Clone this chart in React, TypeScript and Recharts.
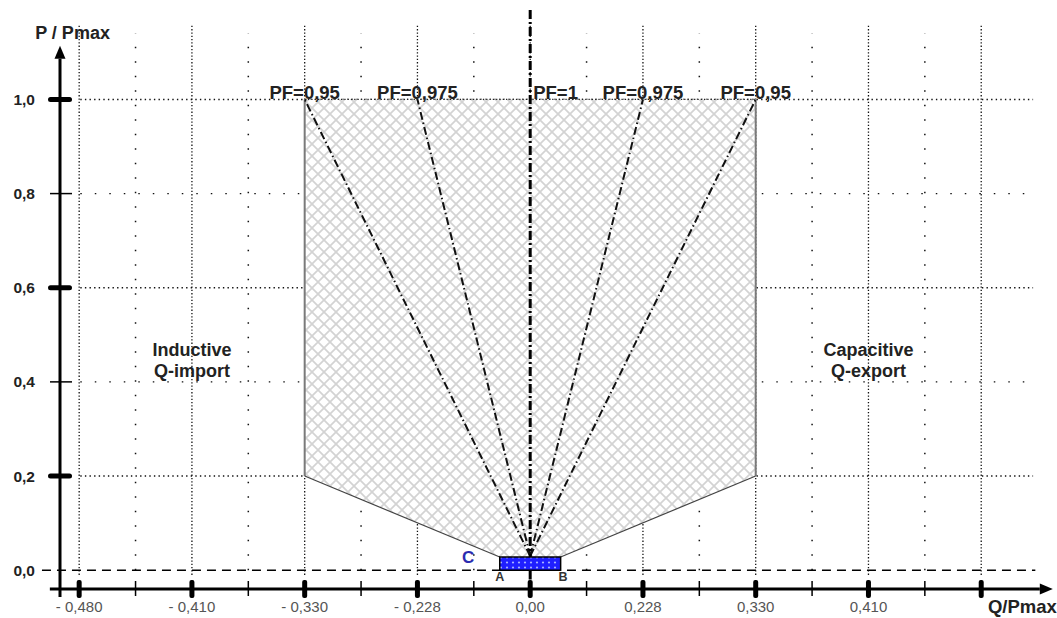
import React from 'react';
import { ComposedChart, XAxis, YAxis, Area, Line, ReferenceLine, ReferenceArea, ReferenceDot } from 'recharts';

// x axis is drawn in evenly spaced grid units, labelled with Q/Pmax values
const xMajorPos = [-4, -3, -2, -1, 0, 1, 2, 3, 4];
const xMajorLabels = ['- 0,480', '- 0,410', '- 0,330', '- 0,228', '0,00', '0,228', '0,330', '0,410', ''];
const xMinorPos = [-3.5, -2.5, -1.5, -0.5, 0.5, 1.5, 2.5, 3.5];
const yTicks = [0, 0.2, 0.4, 0.6, 0.8, 1.0];
const yTickLabels = ['0,0', '0,2', '0,4', '0,6', '0,8', '1,0'];
const yMajor = [0.2, 0.6, 1.0];

// hatched operating region
const areaQ = [-2, -0.27, 0.27, 2];
const areaPmin = [0.2, 0.028, 0.028, 0.2];
const areaPmax = [1, 1, 1, 1];

// power factor lines
const pfQ = [-2, -1, 0, 1, 2];
const pfLabels = ['PF=0,95', 'PF=0,975', 'PF=1', 'PF=0,975', 'PF=0,95'];
const pfStartP = 0.03;

// small blue box A-B
const boxQ = [-0.27, 0.27];
const boxP = [0, 0.028];

const notes = [
  { text: 'Inductive', u: -3, p: 0.455 },
  { text: 'Q-import', u: -3, p: 0.41 },
  { text: 'Capacitive', u: 3, p: 0.455 },
  { text: 'Q-export', u: 3, p: 0.41 },
];

const FONT = '"Liberation Sans", Arial, sans-serif';

const areaData = areaQ.map((u, i) => ({ u, range: [areaPmin[i], areaPmax[i]] }));

function XTick(props: any) {
  const { x, y, payload } = props;
  const i = xMajorPos.indexOf(payload.value);
  if (i < 0) {
    return <line x1={x} x2={x} y1={y - 8} y2={y + 7} stroke="#000" strokeWidth={1.5} />;
  }
  return (
    <g>
      <rect x={x - 2.5} y={y - 9} width={5} height={18} rx={2} fill="#000" />
      <text x={x} y={y + 23} textAnchor="middle" fontFamily={FONT} fontSize={15} fill="#555">
        {xMajorLabels[i]}
      </text>
    </g>
  );
}

function YTick(props: any) {
  const { x, y, payload } = props;
  const i = yTicks.indexOf(payload.value);
  const major = yMajor.includes(payload.value);
  return (
    <g>
      {payload.value !== 0 &&
        (major ? (
          <rect x={x - 12} y={y - 2.5} width={24} height={5} rx={2.5} fill="#000" />
        ) : (
          <line x1={x - 10} x2={x + 12} y1={y} y2={y} stroke="#000" strokeWidth={1.5} />
        ))}
      <text x={x - 25} y={y + 5.5} textAnchor="end" fontFamily={FONT} fontSize={15.5} fontWeight="bold" fill="#222">
        {yTickLabels[i]}
      </text>
    </g>
  );
}

function ArrowShape(props: any) {
  const { x1, y1, x2, y2 } = props;
  const dx = x2 - x1;
  const dy = y2 - y1;
  const len = Math.hypot(dx, dy) || 1;
  const ux = dx / len;
  const uy = dy / len;
  const hl = 13;
  const hw = 5.5;
  const bx = x2 - ux * hl;
  const by = y2 - uy * hl;
  return (
    <g>
      <line x1={x1} y1={y1} x2={bx} y2={by} stroke="#000" strokeWidth={3} />
      <polygon
        points={`${x2},${y2} ${bx - uy * hw},${by + ux * hw} ${bx + uy * hw},${by - ux * hw}`}
        fill="#000"
      />
    </g>
  );
}

function textAt(key: string, text: string, u: number, p: number, style: any) {
  const { anchor = 'middle', dx = 0, size = 16, weight = 'bold', color = '#222' } = style;
  return (
    <ReferenceDot
      key={key}
      x={u}
      y={p}
      ifOverflow="visible"
      zIndex={2000}
      shape={(d: any) => (
        <text
          x={d.cx + dx}
          y={d.cy}
          textAnchor={anchor}
          fontFamily={FONT}
          fontSize={size}
          fontWeight={weight}
          fill={color}
        >
          {text}
        </text>
      )}
    />
  );
}

export default function App() {
  return (
    <div style={{ position: 'absolute', left: 0, top: 0, background: '#fff' }}>
      <ComposedChart width={1057} height={618} margin={{ top: 10, right: 7, bottom: 0, left: 0 }}>
        <defs>
          <pattern id="hatch" width={12} height={12} patternUnits="userSpaceOnUse">
            <rect width={12} height={12} fill="#fff" />
            <path d="M0,0 L12,12 M12,0 L0,12" stroke="#d3d3d3" strokeWidth={1.7} />
          </pattern>
          <pattern id="boxDots" width={6} height={5} patternUnits="userSpaceOnUse">
            <rect width={6} height={5} fill="#1f1fff" />
            <circle cx={3} cy={2.5} r={1.1} fill="#a8b4ff" />
          </pattern>
        </defs>

        <XAxis
          type="number"
          dataKey="u"
          domain={[-4.17, 4.61]}
          ticks={[...xMajorPos, ...xMinorPos]}
          interval={0}
          tick={<XTick />}
          tickLine={false}
          axisLine={false}
          tickSize={0}
          tickMargin={0}
          height={29}
          allowDataOverflow
        />
        <YAxis
          type="number"
          domain={[-0.04, 1.19]}
          ticks={yTicks}
          interval={0}
          tick={<YTick />}
          tickLine={false}
          axisLine={false}
          tickSize={0}
          tickMargin={0}
          width={60}
          allowDataOverflow
        />

        {/* dotted grid */}
        {xMajorPos.map((u) => (
          <ReferenceLine
            key={`gx${u}`}
            segment={[{ x: u, y: -0.01 }, { x: u, y: 1.157 }]}
            stroke="#111"
            strokeWidth={1.3}
            strokeDasharray="1.3 2"
            ifOverflow="visible"
            zIndex={-50}
          />
        ))}
        {xMinorPos.map((u) => (
          <ReferenceLine
            key={`mx${u}`}
            segment={[{ x: u, y: 0 }, { x: u, y: 1.14 }]}
            stroke="#111"
            strokeWidth={1.5}
            strokeDasharray="1.5 13"
            ifOverflow="visible"
            zIndex={-50}
          />
        ))}
        {yTicks
          .filter((p) => p > 0)
          .map((p) => (
            <ReferenceLine
              key={`gy${p}`}
              segment={[{ x: -3.99, y: p }, { x: 4.46, y: p }]}
              stroke="#111"
              strokeWidth={1.4}
              strokeDasharray={yMajor.includes(p) ? '1.4 3.2' : '1.5 13'}
              ifOverflow="visible"
              zIndex={-50}
            />
          ))}

        {/* hatched operating region */}
        <Area
          data={areaData}
          dataKey="range"
          type="linear"
          fill="url(#hatch)"
          fillOpacity={1}
          stroke="none"
          dot={false}
          activeDot={false}
          isAnimationActive={false}
          zIndex={100}
        />
        <Line
          data={[{ u: areaQ[0], p: areaPmin[0] }, { u: areaQ[0], p: areaPmax[0] }]}
          dataKey="p"
          stroke="#7a7a7a"
          strokeWidth={2}
          dot={false}
          activeDot={false}
          isAnimationActive={false}
        />
        <Line
          data={[{ u: areaQ[3], p: areaPmin[3] }, { u: areaQ[3], p: areaPmax[3] }]}
          dataKey="p"
          stroke="#7a7a7a"
          strokeWidth={2}
          dot={false}
          activeDot={false}
          isAnimationActive={false}
        />
        <Line
          data={[{ u: areaQ[0], p: areaPmin[0] }, { u: areaQ[1], p: areaPmin[1] }]}
          dataKey="p"
          stroke="#444"
          strokeWidth={1.2}
          dot={false}
          activeDot={false}
          isAnimationActive={false}
        />
        <Line
          data={[{ u: areaQ[2], p: areaPmin[2] }, { u: areaQ[3], p: areaPmin[3] }]}
          dataKey="p"
          stroke="#444"
          strokeWidth={1.2}
          dot={false}
          activeDot={false}
          isAnimationActive={false}
        />
        <Line
          data={[{ u: areaQ[0], p: 1 }, { u: areaQ[3], p: 1 }]}
          dataKey="p"
          stroke="#222"
          strokeWidth={1.3}
          strokeDasharray="1.3 2"
          dot={false}
          activeDot={false}
          isAnimationActive={false}
        />

        {/* power factor lines */}
        {pfQ
          .filter((q) => q !== 0)
          .map((q) => (
            <Line
              key={`pf${q}`}
              data={[{ u: 0, p: pfStartP }, { u: q, p: 1 }]}
              dataKey="p"
              stroke="#111"
              strokeWidth={2}
              strokeDasharray="8 3 1.5 3"
              dot={false}
              activeDot={false}
              isAnimationActive={false}
            />
          ))}
        <Line
          data={[{ u: 0, p: 1.19 }, { u: 0, p: -0.02 }]}
          dataKey="p"
          stroke="#000"
          strokeWidth={3}
          strokeDasharray="9 3 2 3"
          dot={false}
          activeDot={false}
          isAnimationActive={false}
        />

        {/* zero line and axes */}
        <ReferenceLine
          segment={[{ x: -4.33, y: 0 }, { x: 4.48, y: 0 }]}
          stroke="#000"
          strokeWidth={1.5}
          strokeDasharray="9 6"
          ifOverflow="visible"
          zIndex={450}
        />
        <ReferenceLine
          segment={[{ x: -4.26, y: -0.04 }, { x: 4.635, y: -0.04 }]}
          shape={ArrowShape}
          ifOverflow="visible"
          zIndex={480}
        />
        <ReferenceLine
          segment={[{ x: -4.17, y: -0.057 }, { x: -4.17, y: 1.114 }]}
          shape={ArrowShape}
          ifOverflow="visible"
          zIndex={480}
        />

        <ReferenceArea
          x1={boxQ[0]}
          x2={boxQ[1]}
          y1={boxP[0]}
          y2={boxP[1]}
          fill="url(#boxDots)"
          fillOpacity={1}
          stroke="#000"
          strokeWidth={1.5}
          ifOverflow="visible"
          zIndex={600}
        />

        {pfQ.map((q, i) =>
          textAt(`pft${i}`, pfLabels[i], q, 1, {
            anchor: q === 0 ? 'start' : 'middle',
            dx: q === 0 ? 3 : 0,
            size: 18.5,
          })
        )}
        {notes.map((n, i) => textAt(`note${i}`, n.text, n.u, n.p, { size: 18 }))}
        {textAt('c', 'C', -0.55, 0.015, { size: 17, color: '#2b2bb0' })}
        {textAt('a', 'A', -0.27, -0.023, { size: 12.5, color: '#333' })}
        {textAt('b', 'B', 0.29, -0.023, { size: 12.5, color: '#333' })}
        {textAt('py', 'P / Pmax', -4.39, 1.128, { anchor: 'start', size: 18 })}
        {textAt('qx', 'Q/Pmax', 4.06, -0.091, { anchor: 'start', size: 18.5 })}
      </ComposedChart>
    </div>
  );
}
